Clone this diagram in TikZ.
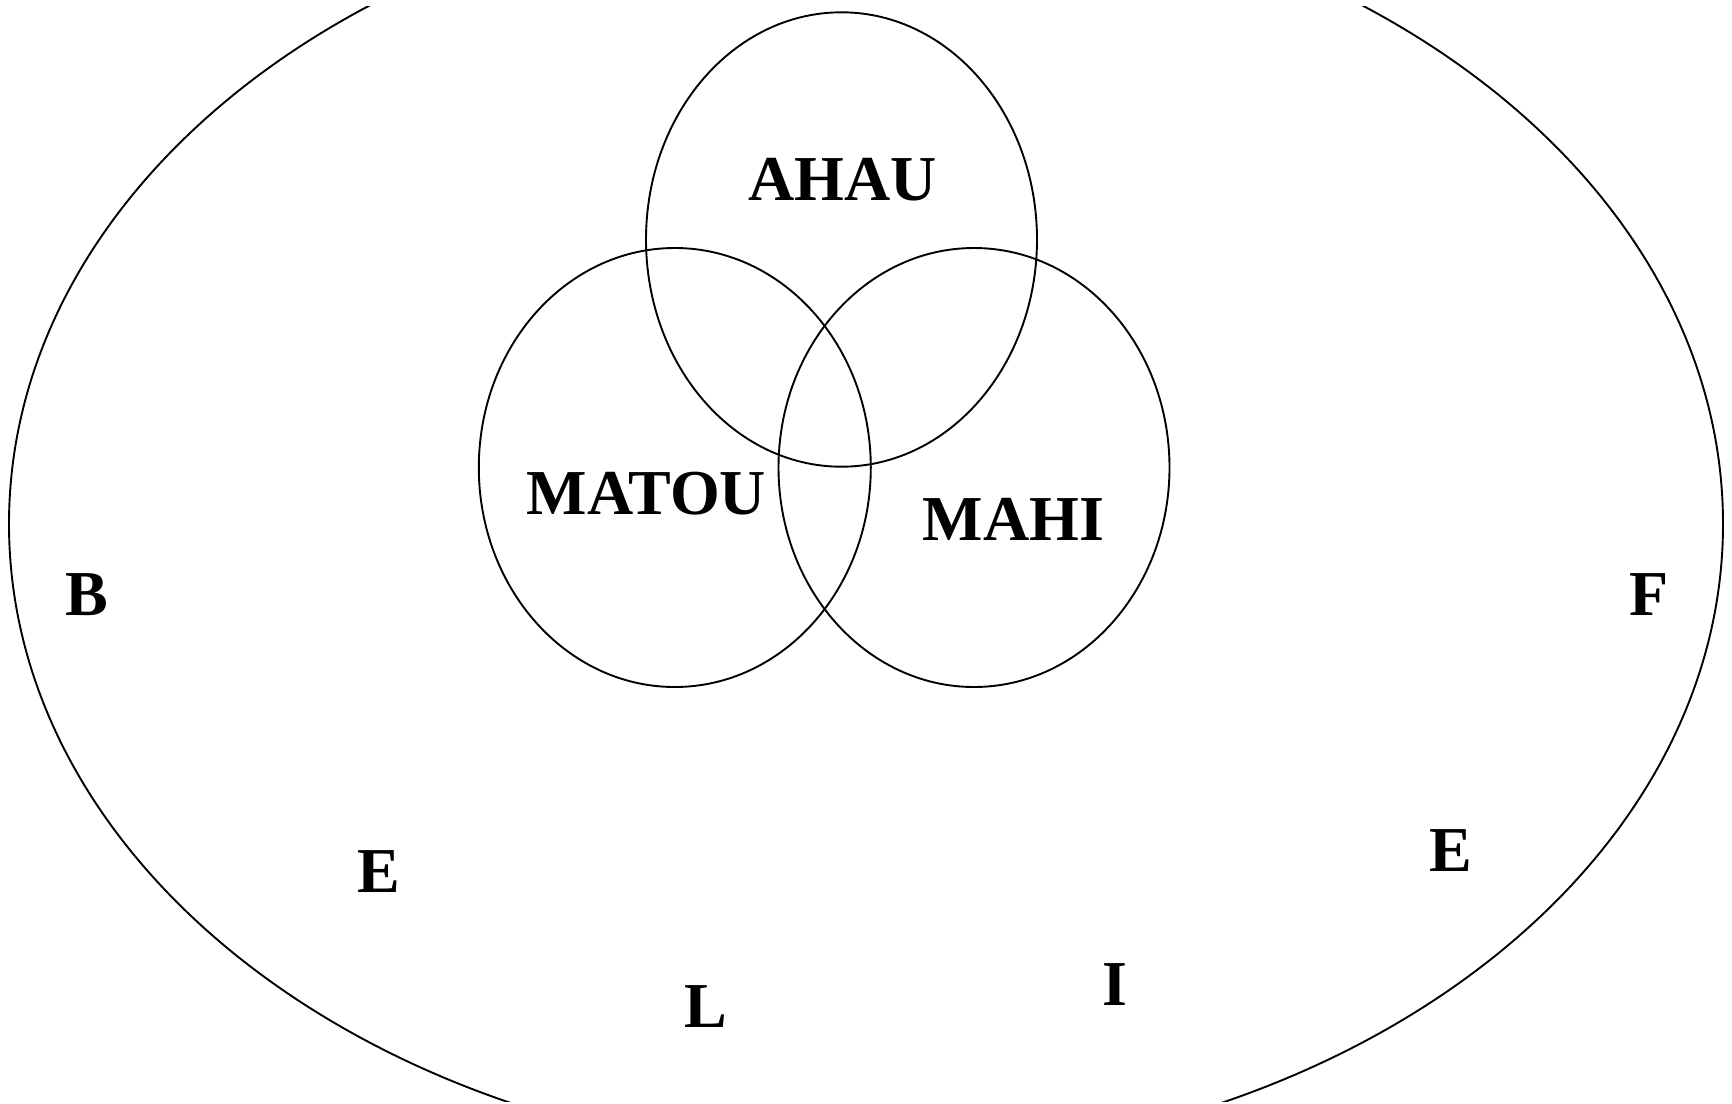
\documentclass[tikz,border=0pt]{standalone}
\usepackage{fontspec}
\setmainfont{Liberation Serif}
\begin{document}
\begin{tikzpicture}[x=1pt,y=-1pt,
  ring/.style={draw=black,line width=1.9pt},
  lbl/.style={anchor=base,inner sep=0pt,font=\fontsize{64}{72}\selectfont\bfseries}]
\useasboundingbox[fill=white] (0,0) rectangle (1732,1103);
\begin{scope}
  \clip (0,6) rectangle (1732,1101);
  \draw[ring] (866,524) ellipse [x radius=857pt, y radius=636pt];
\end{scope}
\draw[ring] (841.5,239.5) ellipse [x radius=195.5pt, y radius=227.2pt];
\draw[ring] (674.8,467.5) ellipse [x radius=196pt, y radius=219.5pt];
\draw[ring] (974,467.5) ellipse [x radius=195.5pt, y radius=219.5pt];
\node[lbl] (ahau) at (842.3,200.7) {AHAU};
\node[lbl] (matou) at (646.3,514.8) {MATOU};
\node[lbl] (mahi) at (1013.3,540) {MAHI};
\node[lbl] (b) at (87,615) {B};
\node[lbl] (f) at (1649,615) {F};
\node[lbl] (e1) at (379,892.7) {E};
\node[lbl] (e2) at (1451.3,871.7) {E};
\node[lbl] (l) at (705.8,1027.3) {L};
\node[lbl] (i) at (1114.5,1005) {I};
\end{tikzpicture}
\end{document}
